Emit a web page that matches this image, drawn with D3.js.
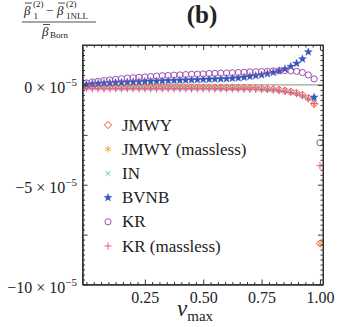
<!DOCTYPE html>
<html><head><meta charset="utf-8">
<script src="https://cdn.jsdelivr.net/npm/d3@7"></script>
<style>
body{margin:0;background:#fff}
svg{display:block}
text{font-family:"Liberation Serif","Times New Roman",serif;fill:#222}
</style>
</head><body><svg id="c" width="338" height="327"></svg>
<script>
// ---- data (values in units of 1e-5) ----
const vmax = [0, 0.025, 0.05, 0.075, 0.1, 0.125, 0.15, 0.175, 0.2, 0.225,
  0.25, 0.275, 0.3, 0.325, 0.35, 0.375, 0.4, 0.425, 0.45, 0.475,
  0.5, 0.525, 0.55, 0.575, 0.6, 0.625, 0.65, 0.675, 0.7, 0.725,
  0.75, 0.775, 0.8, 0.825, 0.85, 0.875, 0.9, 0.925, 0.95, 0.975, 1.0];

const JMWY = [-0.10,-0.10,-0.11,-0.11,-0.11,-0.12,-0.12,-0.12,-0.12,-0.12,
  -0.12,-0.12,-0.12,-0.12,-0.12,-0.12,-0.12,-0.12,-0.12,-0.12,
  -0.12,-0.12,-0.13,-0.13,-0.13,-0.13,-0.14,-0.14,-0.15,-0.16,
  -0.17,-0.19,-0.21,-0.24,-0.28,-0.33,-0.40,-0.50,-0.65,-0.95,-7.95];
const JMWYmassless = [-0.10,-0.11,-0.11,-0.11,-0.12,-0.12,-0.12,-0.12,-0.12,-0.12,
  -0.12,-0.12,-0.12,-0.12,-0.12,-0.12,-0.12,-0.12,-0.12,-0.12,
  -0.12,-0.13,-0.13,-0.13,-0.13,-0.14,-0.14,-0.15,-0.15,-0.16,
  -0.18,-0.19,-0.22,-0.25,-0.29,-0.34,-0.41,-0.51,-0.66,-0.97,-7.95];
const IN = [-0.15,-0.16,-0.16,-0.17,-0.17,-0.17,-0.17,-0.17,-0.17,-0.17,
  -0.17,-0.17,-0.17,-0.17,-0.17,-0.17,-0.17,-0.17,-0.17,-0.17,
  -0.17,-0.17,-0.18,-0.18,-0.18,-0.18,-0.19,-0.19,-0.20,-0.21,
  -0.22,-0.24,-0.26,-0.29,-0.33,-0.38,-0.45,-0.55,-0.68,-0.72,null];
const BVNB = [0.02,0.05,0.07,0.09,0.10,0.12,0.13,0.14,0.15,0.16,
  0.17,0.18,0.19,0.20,0.21,0.22,0.23,0.24,0.25,0.26,
  0.27,0.28,0.29,0.30,0.31,0.33,0.35,0.38,0.42,0.46,
  0.50,0.56,0.62,0.70,0.80,0.92,1.08,1.30,1.65,-0.62,null];
const KR = [0.10,0.15,0.18,0.22,0.25,0.28,0.31,0.34,0.36,0.38,
  0.40,0.42,0.44,0.46,0.47,0.49,0.50,0.52,0.53,0.54,
  0.55,0.57,0.58,0.59,0.60,0.61,0.62,0.63,0.65,0.66,
  0.67,0.68,0.70,0.71,0.72,0.71,0.68,0.62,0.50,0.30,-2.9];
const KRmassless = [-0.18,-0.19,-0.19,-0.19,-0.19,-0.19,-0.19,-0.19,-0.19,-0.19,
  -0.19,-0.19,-0.19,-0.19,-0.19,-0.19,-0.19,-0.19,-0.19,-0.19,
  -0.19,-0.19,-0.19,-0.19,-0.20,-0.20,-0.20,-0.21,-0.21,-0.22,
  -0.23,-0.24,-0.26,-0.29,-0.33,-0.38,-0.45,-0.55,-0.70,-0.93,-4.05];

const seriesNames = ["JMWY", "JMWY (massless)", "IN", "BVNB", "KR", "KR (massless)"];
const seriesValues = [JMWY, JMWYmassless, IN, BVNB, KR, KRmassless];
const seriesColors = ["#ee4a4a", "#f7a24a", "#62bf94", "#3657b8", "#9c4fae", "#f0509e"];
const seriesMarkers = ["diamond", "asterisk", "times", "star", "circle", "plus"];

const xTickValues = [0.25, 0.5, 0.75, 1.0];
const xTickLabels = ["0.25", "0.50", "0.75", "1.00"];
const yTickValues = [-10, -7.5, -5, -2.5, 0];
const yTickLabels = {"0": "0", "-5": "\u22125", "-10": "\u221210"};

// ---- layout ----
const svg = d3.select("#c");
const L = 82.5, R = 323, T = 45, B = 284.5;
const x = d3.scaleLinear().domain([-0.017, 1.013]).range([L, R]);
const y = d3.scaleLinear().domain([-10, 2]).range([B, T]);

// marker types (size = radius)
const mk = {
  diamond: {draw(c, r){c.moveTo(0,-r);c.lineTo(r,0);c.lineTo(0,r);c.lineTo(-r,0);c.closePath();}},
  asterisk: {draw(c, r){for(let k=0;k<3;k++){const a=Math.PI/2+k*Math.PI/3;c.moveTo(r*Math.cos(a),r*Math.sin(a));c.lineTo(-r*Math.cos(a),-r*Math.sin(a));}}},
  times: {draw(c, r){c.moveTo(-r,-r);c.lineTo(r,r);c.moveTo(-r,r);c.lineTo(r,-r);}},
  plus: {draw(c, r){c.moveTo(-r,0);c.lineTo(r,0);c.moveTo(0,-r);c.lineTo(0,r);}},
  circle: {draw(c, r){c.moveTo(r,0);c.arc(0,0,r,0,2*Math.PI);}},
  star: {draw(c, r){const ri=r*0.42;for(let k=0;k<10;k++){const a=-Math.PI/2+k*Math.PI/5;const rr=k%2?ri:r;const px=rr*Math.cos(a),py=rr*Math.sin(a);if(k===0)c.moveTo(px,py);else c.lineTo(px,py);}c.closePath();}}
};
const mkSize = {diamond:3.6, asterisk:3.3, times:2.3, plus:3.6, circle:3.1, star:4.3};
const sym = (t) => d3.symbol().type(mk[t]).size(mkSize[t])();
function styleMarker(sel, t, color){
  sel.attr("d", sym(t));
  if (t === "star") sel.attr("fill", color).attr("stroke", color).attr("stroke-width", 0.3);
  else sel.attr("fill", "none").attr("stroke", color).attr("stroke-width", 1);
}

// zero line
svg.append("line").attr("x1", L).attr("x2", R).attr("y1", y(0)).attr("y2", y(0))
  .attr("stroke", "#8a8a8a").attr("stroke-width", 1);

// data
const gData = svg.append("g");
seriesValues.forEach((vals, si) => {
  const pts = vmax.map((v, i) => ({v, val: vals[i]})).filter(d => d.val !== null);
  gData.append("g").selectAll("path").data(pts).join("path")
    .attr("transform", d => `translate(${x(d.v)},${y(d.val)})`)
    .call(s => styleMarker(s, seriesMarkers[si], seriesColors[si]));
});

// axes (ticks inward on all sides)
const axCol = "#333";
function styleAxis(g){ g.selectAll("path,line").attr("stroke", axCol).attr("stroke-width", 1); g.selectAll("text").remove(); }
const xMinor = d3.range(0, 33).map(k => k/32).filter(v => !xTickValues.includes(v));
const yMinor = d3.range(-40, 9).map(k => k/4).filter(v => !yTickValues.includes(v));

svg.append("g").attr("transform", `translate(0,${B})`).call(d3.axisBottom(x).tickValues(xMinor).tickSize(-2.5).tickSizeOuter(0)).call(styleAxis);
svg.append("g").attr("transform", `translate(0,${T})`).call(d3.axisTop(x).tickValues(xMinor).tickSize(-2.5).tickSizeOuter(0)).call(styleAxis);
svg.append("g").attr("transform", `translate(${L},0)`).call(d3.axisLeft(y).tickValues(yMinor).tickSize(-2.5).tickSizeOuter(0)).call(styleAxis);
svg.append("g").attr("transform", `translate(${R},0)`).call(d3.axisRight(y).tickValues(yMinor).tickSize(-2.5).tickSizeOuter(0)).call(styleAxis);

const gxB = svg.append("g").attr("transform", `translate(0,${B})`)
  .call(d3.axisBottom(x).tickValues(xTickValues).tickSize(-5).tickSizeOuter(0).tickPadding(0)
  .tickFormat((d, i) => xTickLabels[i]));
gxB.selectAll("path,line").attr("stroke", axCol);
gxB.selectAll("text").attr("y", 18.5).attr("dy", 0).attr("font-size", 16)
  .style("font-family", '"Liberation Serif",serif').attr("fill", "#222");
svg.append("g").attr("transform", `translate(0,${T})`)
  .call(d3.axisTop(x).tickValues(xTickValues).tickSize(-5).tickSizeOuter(0)).call(styleAxis);
const gyL = svg.append("g").attr("transform", `translate(${L},0)`)
  .call(d3.axisLeft(y).tickValues(yTickValues).tickSize(-5).tickSizeOuter(0).tickFormat(""));
gyL.selectAll("path,line").attr("stroke", axCol);
svg.append("g").attr("transform", `translate(${R},0)`)
  .call(d3.axisRight(y).tickValues(yTickValues).tickSize(-5).tickSizeOuter(0)).call(styleAxis);

// y tick labels with superscripts
gyL.selectAll(".tick").each(function(d){
  const lab = yTickLabels[String(d)];
  if (lab === undefined) return;
  const t = d3.select(this).select("text");
  t.text(null).attr("x", -5.5).attr("y", 8).attr("dy", 0)
    .attr("text-anchor", "end").attr("font-size", 16).attr("fill", "#222")
    .style("font-family", '"Liberation Serif",serif');
  t.append("tspan").text(lab + " \u00d7 10");
  t.append("tspan").attr("font-size", 11).attr("dy", -7).text("\u22125");
});

// frame
svg.append("rect").attr("x", L).attr("y", T).attr("width", R - L).attr("height", B - T)
  .attr("fill", "none").attr("stroke", axCol).attr("stroke-width", 1);

// legend
const lg = svg.append("g");
seriesNames.forEach((name, i) => {
  const cy = 125 + i * 24.2;
  lg.append("path").attr("transform", `translate(108,${cy})`)
    .call(s => styleMarker(s, seriesMarkers[i], seriesColors[i]));
  lg.append("text").attr("x", 122).attr("y", cy + 5.5).attr("font-size", 17).text(name);
});

// title
svg.append("text").attr("x", 202).attr("y", 23).attr("text-anchor", "middle")
  .attr("font-size", 25).attr("font-weight", "bold").text("(b)");

// x label
const xl = svg.append("text").attr("x", 177).attr("y", 316).attr("font-size", 23);
xl.append("tspan").attr("font-style", "italic").text("v");
xl.append("tspan").attr("font-size", 15).attr("dy", 5).text("max");

// y label (fraction)
const yl = svg.append("g");
const num = yl.append("text").attr("y", 14.5).attr("font-size", 13);
num.append("tspan").attr("x", 24).attr("font-style", "italic").text("\u03b2");
num.append("tspan").attr("x", 33).attr("y", 7).attr("font-size", 9).text("(2)");
num.append("tspan").attr("x", 33.5).attr("y", 18.5).attr("font-size", 9).text("1");
num.append("tspan").attr("x", 46).attr("y", 14.5).text("\u2212");
num.append("tspan").attr("x", 57).attr("font-style", "italic").text("\u03b2");
num.append("tspan").attr("x", 66).attr("y", 7).attr("font-size", 9).text("(2)");
num.append("tspan").attr("x", 66).attr("y", 19).attr("font-size", 9).text("1NLL");
yl.append("line").attr("x1", 25).attr("x2", 32).attr("y1", 3).attr("y2", 3).attr("stroke", "#222").attr("stroke-width", 0.8);
yl.append("line").attr("x1", 58).attr("x2", 65).attr("y1", 3).attr("y2", 3).attr("stroke", "#222").attr("stroke-width", 0.8);
yl.append("line").attr("x1", 22).attr("x2", 96).attr("y1", 22).attr("y2", 22).attr("stroke", "#222").attr("stroke-width", 0.8);
const den = yl.append("text").attr("y", 35.5).attr("font-size", 13);
den.append("tspan").attr("x", 42).attr("font-style", "italic").text("\u03b2");
den.append("tspan").attr("x", 50).attr("y", 38).attr("font-size", 9).text("Born");
yl.append("line").attr("x1", 43).attr("x2", 50).attr("y1", 24.5).attr("y2", 24.5).attr("stroke", "#222").attr("stroke-width", 0.8);
</script>
</body></html>
